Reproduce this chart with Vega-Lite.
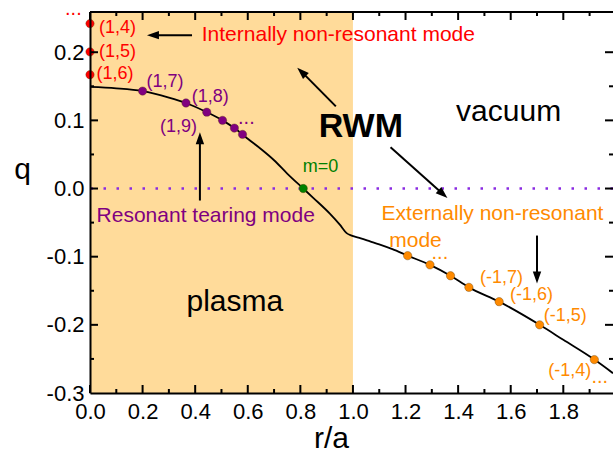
{
  "$schema": "https://vega.github.io/schema/vega-lite/v6.json",
  "width": 523,
  "height": 381,
  "autosize": {"type": "none"},
  "padding": {"left": 90, "top": 12, "right": 0, "bottom": 57},
  "background": "white",
  "config": {
    "view": {"stroke": null},
    "axis": {"grid": false, "domainColor": "black", "domainWidth": 2, "labelFont": "Liberation Sans", "titleFont": "Liberation Sans", "labelFontSize": 22, "labelColor": "black", "titleColor": "black"},
    "text": {"font": "Liberation Sans"}
  },
  "datasets": {
    "region": [{"r0": 0, "r1": 1, "q0": -0.3, "q1": 0.259}],
    "frame": [{"r": 0, "q": 0.259}, {"r": 1.989, "q": 0.259}],
    "zero": [{"q": 0}],
    "xmaj": [{"r": 0}, {"r": 0.2}, {"r": 0.4}, {"r": 0.6}, {"r": 0.8}, {"r": 1.0}, {"r": 1.2}, {"r": 1.4}, {"r": 1.6}, {"r": 1.8}],
    "xmin": [{"r": 0.1}, {"r": 0.3}, {"r": 0.5}, {"r": 0.7}, {"r": 0.9}, {"r": 1.1}, {"r": 1.3}, {"r": 1.5}, {"r": 1.7}, {"r": 1.9}],
    "ymaj": [{"q": -0.2}, {"q": -0.1}, {"q": 0}, {"q": 0.1}, {"q": 0.2}],
    "ymin": [{"q": -0.25}, {"q": -0.15}, {"q": -0.05}, {"q": 0.05}, {"q": 0.15}],
    "curve": [
      {"r": 0, "q": 0.149}, {"r": 0.1, "q": 0.147}, {"r": 0.2, "q": 0.143}, {"r": 0.3, "q": 0.1335},
      {"r": 0.365, "q": 0.1255}, {"r": 0.444, "q": 0.112}, {"r": 0.504, "q": 0.1}, {"r": 0.549, "q": 0.0887},
      {"r": 0.58, "q": 0.0794}, {"r": 0.6, "q": 0.073}, {"r": 0.65, "q": 0.058}, {"r": 0.7, "q": 0.0415},
      {"r": 0.75, "q": 0.022}, {"r": 0.811, "q": 0}, {"r": 0.85, "q": -0.014}, {"r": 0.913, "q": -0.0372},
      {"r": 0.95, "q": -0.053}, {"r": 0.976, "q": -0.0655}, {"r": 0.995, "q": -0.069}, {"r": 1.03, "q": -0.073},
      {"r": 1.065, "q": -0.0775}, {"r": 1.1, "q": -0.082}, {"r": 1.15, "q": -0.089}, {"r": 1.208, "q": -0.0985},
      {"r": 1.293, "q": -0.112}, {"r": 1.371, "q": -0.128}, {"r": 1.441, "q": -0.145}, {"r": 1.556, "q": -0.166},
      {"r": 1.71, "q": -0.2}, {"r": 1.8, "q": -0.222}, {"r": 1.918, "q": -0.251}, {"r": 1.989, "q": -0.271}
    ],
    "pts": [
      {"r": 0, "q": 0.242, "group": "internal"}, {"r": 0, "q": 0.2005, "group": "internal"}, {"r": 0, "q": 0.167, "group": "internal"},
      {"r": 0.2, "q": 0.143, "group": "tearing"}, {"r": 0.365, "q": 0.1255, "group": "tearing"}, {"r": 0.444, "q": 0.112, "group": "tearing"},
      {"r": 0.504, "q": 0.1, "group": "tearing"}, {"r": 0.549, "q": 0.0887, "group": "tearing"}, {"r": 0.58, "q": 0.0794, "group": "tearing"},
      {"r": 0.811, "q": 0, "group": "m0"},
      {"r": 1.208, "q": -0.0985, "group": "external"}, {"r": 1.293, "q": -0.112, "group": "external"}, {"r": 1.371, "q": -0.128, "group": "external"},
      {"r": 1.441, "q": -0.145, "group": "external"}, {"r": 1.556, "q": -0.166, "group": "external"}, {"r": 1.71, "q": -0.2, "group": "external"},
      {"r": 1.918, "q": -0.251, "group": "external"}
    ],
    "small": [
      {"r": 0.034, "q": 0.235, "label": "(1,4)", "group": "internal"},
      {"r": 0.034, "q": 0.2, "label": "(1,5)", "group": "internal"},
      {"r": 0.025, "q": 0.168, "label": "(1,6)", "group": "internal"},
      {"r": 0.215, "q": 0.156, "label": "(1,7)", "group": "tearing"},
      {"r": 0.387, "q": 0.135, "label": "(1,8)", "group": "tearing"},
      {"r": 0.266, "q": 0.091, "label": "(1,9)", "group": "tearing"},
      {"r": 0.809, "q": 0.031, "label": "m=0", "group": "m0"},
      {"r": 1.483, "q": -0.131, "label": "(-1,7)", "group": "external"},
      {"r": 1.597, "q": -0.156, "label": "(-1,6)", "group": "external"},
      {"r": 1.726, "q": -0.187, "label": "(-1,5)", "group": "external"},
      {"r": 1.743, "q": -0.268, "label": "(-1,4)", "group": "external"}
    ],
    "notes": [
      {"r": 0.425, "q": 0.225, "label": "Internally non-resonant mode", "group": "internal"},
      {"r": 0.025, "q": -0.04, "label": "Resonant tearing mode", "group": "tearing"},
      {"r": 1.109, "q": -0.037, "label": "Externally non-resonant", "group": "external"},
      {"r": 1.138, "q": -0.0765, "label": "mode", "group": "external"}
    ],
    "dots": [
      {"r": -0.095, "q": 0.255, "group": "internal"},
      {"r": 0.563, "q": 0.095, "group": "tearing"},
      {"r": 1.299, "q": -0.104, "group": "external"},
      {"r": 1.907, "q": -0.285, "group": "external"}
    ],
    "words": [
      {"r": 1.592, "q": 0.0988, "label": "vacuum"},
      {"r": 0.551, "q": -0.179, "label": "plasma"}
    ],
    "big": [{"r": 1.03, "q": 0.0749, "label": "RWM"}],
    "shafts": [
      {"r": 0.388, "q": 0.225, "r2": 0.244, "q2": 0.225},
      {"r": 0.418, "q": -0.0176, "r2": 0.418, "q2": 0.072},
      {"r": 0.935, "q": 0.1206, "r2": 0.808, "q2": 0.17},
      {"r": 1.143, "q": 0.0607, "r2": 1.339, "q2": -0.0069},
      {"r": 1.7, "q": -0.069, "r2": 1.7, "q2": -0.1288}
    ],
    "heads": [
      {"r": 0.244, "q": 0.225, "dir": "left"},
      {"r": 0.418, "q": 0.072, "dir": "up"},
      {"r": 0.808, "q": 0.17, "dir": "upleft"},
      {"r": 1.339, "q": -0.0069, "dir": "downright"},
      {"r": 1.7, "q": -0.1288, "dir": "down"}
    ]
  },
  "layer": [
    {
      "data": {"name": "region"},
      "mark": {"type": "rect", "color": "#FFDB9A"},
      "encoding": {
        "x": {"field": "r0", "type": "quantitative", "scale": {"domain": [0, 1.989], "nice": false, "zero": false},
          "axis": {"orient": "bottom", "zindex": 1, "title": "r/a", "values": [0, 0.2, 0.4, 0.6, 0.8, 1.0, 1.2, 1.4, 1.6, 1.8],
            "format": ".1f", "ticks": false, "grid": false,
            "labelPadding": 8, "labelOverlap": false, "labelFlush": false,
            "titleFontSize": 30, "titleFontWeight": "normal", "titleX": 241, "titleY": 54, "titleAlign": "center", "titleBaseline": "alphabetic"}},
        "x2": {"field": "r1"},
        "y": {"field": "q0", "type": "quantitative", "scale": {"domain": [-0.3, 0.259], "nice": false, "zero": false},
          "axis": {"orient": "left", "zindex": 1, "title": "q", "values": [-0.3, -0.2, -0.1, 0, 0.1, 0.2],
            "labelExpr": "replace(format(datum.value,'.1f'),'−','-')", "ticks": false, "grid": false,
            "labelPadding": 6, "labelOverlap": false, "labelFlush": false,
            "titleFontSize": 30, "titleFontWeight": "normal", "titleAngle": 0, "titleX": -68, "titleY": 166, "titleAlign": "center", "titleBaseline": "alphabetic"}},
        "y2": {"field": "q1"}
      }
    },
    {
      "data": {"name": "zero"},
      "mark": {"type": "rule", "color": "#8A2BE2", "strokeWidth": 2.5, "strokeDash": [2.5, 10.5]},
      "encoding": {"y": {"field": "q", "type": "quantitative"}}
    },
    {
      "data": {"name": "curve"},
      "mark": {"type": "line", "color": "black", "strokeWidth": 1.8, "interpolate": "monotone"},
      "encoding": {
        "x": {"field": "r", "type": "quantitative"},
        "y": {"field": "q", "type": "quantitative"}
      }
    },
    {
      "data": {"name": "shafts"},
      "mark": {"type": "rule", "color": "black", "strokeWidth": 2},
      "encoding": {
        "x": {"field": "r", "type": "quantitative"},
        "y": {"field": "q", "type": "quantitative"},
        "x2": {"field": "r2"},
        "y2": {"field": "q2"}
      }
    },
    {
      "data": {"name": "heads"},
      "transform": [{"filter": "datum.dir == 'left'"}],
      "mark": {"type": "point", "shape": "M0,-1.2L0.7,0.8L-0.7,0.8Z", "filled": true, "color": "black", "opacity": 1, "size": 144, "angle": 270},
      "encoding": {"x": {"field": "r", "type": "quantitative"}, "y": {"field": "q", "type": "quantitative"}}
    },
    {
      "data": {"name": "heads"},
      "transform": [{"filter": "datum.dir == 'up'"}],
      "mark": {"type": "point", "shape": "M0,-1.2L0.7,0.8L-0.7,0.8Z", "filled": true, "color": "black", "opacity": 1, "size": 144, "angle": 0},
      "encoding": {"x": {"field": "r", "type": "quantitative"}, "y": {"field": "q", "type": "quantitative"}}
    },
    {
      "data": {"name": "heads"},
      "transform": [{"filter": "datum.dir == 'upleft'"}],
      "mark": {"type": "point", "shape": "M0,-1.2L0.7,0.8L-0.7,0.8Z", "filled": true, "color": "black", "opacity": 1, "size": 144, "angle": 313.5},
      "encoding": {"x": {"field": "r", "type": "quantitative"}, "y": {"field": "q", "type": "quantitative"}}
    },
    {
      "data": {"name": "heads"},
      "transform": [{"filter": "datum.dir == 'downright'"}],
      "mark": {"type": "point", "shape": "M0,-1.2L0.7,0.8L-0.7,0.8Z", "filled": true, "color": "black", "opacity": 1, "size": 144, "angle": 131.8},
      "encoding": {"x": {"field": "r", "type": "quantitative"}, "y": {"field": "q", "type": "quantitative"}}
    },
    {
      "data": {"name": "heads"},
      "transform": [{"filter": "datum.dir == 'down'"}],
      "mark": {"type": "point", "shape": "M0,-1.2L0.7,0.8L-0.7,0.8Z", "filled": true, "color": "black", "opacity": 1, "size": 144, "angle": 180},
      "encoding": {"x": {"field": "r", "type": "quantitative"}, "y": {"field": "q", "type": "quantitative"}}
    },
    {
      "data": {"name": "pts"},
      "mark": {"type": "point", "shape": "circle", "filled": true, "opacity": 1, "size": 70, "stroke": "#553300", "strokeWidth": 0.6, "strokeOpacity": 0.6},
      "encoding": {
        "x": {"field": "r", "type": "quantitative"},
        "y": {"field": "q", "type": "quantitative"},
        "fill": {"field": "group", "type": "nominal", "legend": null, "scale": {"domain": ["internal", "tearing", "m0", "external"], "range": ["#FF0000", "#800080", "#008000", "#FF8A00"]}}
      }
    },
    {
      "data": {"name": "small"},
      "mark": {"type": "text", "align": "left", "baseline": "middle", "fontSize": 18},
      "encoding": {
        "x": {"field": "r", "type": "quantitative"},
        "y": {"field": "q", "type": "quantitative"},
        "text": {"field": "label"},
        "color": {"field": "group", "type": "nominal", "legend": null, "scale": {"domain": ["internal", "tearing", "m0", "external"], "range": ["#FF0000", "#800080", "#008000", "#FF8A00"]}}
      }
    },
    {
      "data": {"name": "notes"},
      "mark": {"type": "text", "align": "left", "baseline": "middle", "fontSize": 21},
      "encoding": {
        "x": {"field": "r", "type": "quantitative"},
        "y": {"field": "q", "type": "quantitative"},
        "text": {"field": "label"},
        "color": {"field": "group", "type": "nominal", "legend": null, "scale": {"domain": ["internal", "tearing", "m0", "external"], "range": ["#FF0000", "#800080", "#008000", "#FF8A00"]}}
      }
    },
    {
      "data": {"name": "dots"},
      "mark": {"type": "text", "align": "left", "baseline": "alphabetic", "fontSize": 20, "text": "..."},
      "encoding": {
        "x": {"field": "r", "type": "quantitative"},
        "y": {"field": "q", "type": "quantitative"},
        "color": {"field": "group", "type": "nominal", "legend": null, "scale": {"domain": ["internal", "tearing", "m0", "external"], "range": ["#FF0000", "#800080", "#008000", "#FF8A00"]}}
      }
    },
    {
      "data": {"name": "words"},
      "mark": {"type": "text", "align": "center", "baseline": "alphabetic", "fontSize": 30, "color": "black"},
      "encoding": {
        "x": {"field": "r", "type": "quantitative"},
        "y": {"field": "q", "type": "quantitative"},
        "text": {"field": "label"}
      }
    },
    {
      "data": {"name": "big"},
      "mark": {"type": "text", "align": "center", "baseline": "alphabetic", "fontSize": 34, "fontWeight": "bold", "color": "black"},
      "encoding": {
        "x": {"field": "r", "type": "quantitative"},
        "y": {"field": "q", "type": "quantitative"},
        "text": {"field": "label"}
      }
    },
    {
      "data": {"name": "frame"},
      "mark": {"type": "line", "color": "black", "strokeWidth": 2},
      "encoding": {"x": {"field": "r", "type": "quantitative"}, "y": {"field": "q", "type": "quantitative"}}
    },
    {
      "data": {"name": "xmaj"},
      "mark": {"type": "point", "shape": "M0,0L0,-2", "filled": false, "stroke": "black", "strokeWidth": 2, "opacity": 1, "size": 64},
      "encoding": {"x": {"field": "r", "type": "quantitative"}, "y": {"datum": -0.3, "type": "quantitative"}}
    },
    {
      "data": {"name": "xmin"},
      "mark": {"type": "point", "shape": "M0,0L0,-2", "filled": false, "stroke": "black", "strokeWidth": 2, "opacity": 1, "size": 16},
      "encoding": {"x": {"field": "r", "type": "quantitative"}, "y": {"datum": -0.3, "type": "quantitative"}}
    },
    {
      "data": {"name": "xmaj"},
      "mark": {"type": "point", "shape": "M0,0L0,2", "filled": false, "stroke": "black", "strokeWidth": 2, "opacity": 1, "size": 64},
      "encoding": {"x": {"field": "r", "type": "quantitative"}, "y": {"datum": 0.259, "type": "quantitative"}}
    },
    {
      "data": {"name": "xmin"},
      "mark": {"type": "point", "shape": "M0,0L0,2", "filled": false, "stroke": "black", "strokeWidth": 2, "opacity": 1, "size": 16},
      "encoding": {"x": {"field": "r", "type": "quantitative"}, "y": {"datum": 0.259, "type": "quantitative"}}
    },
    {
      "data": {"name": "ymaj"},
      "mark": {"type": "point", "shape": "M0,0L2,0", "filled": false, "stroke": "black", "strokeWidth": 2, "opacity": 1, "size": 64},
      "encoding": {"y": {"field": "q", "type": "quantitative"}, "x": {"datum": 0, "type": "quantitative"}}
    },
    {
      "data": {"name": "ymin"},
      "mark": {"type": "point", "shape": "M0,0L2,0", "filled": false, "stroke": "black", "strokeWidth": 2, "opacity": 1, "size": 16},
      "encoding": {"y": {"field": "q", "type": "quantitative"}, "x": {"datum": 0, "type": "quantitative"}}
    },
    {
      "data": {"name": "ymaj"},
      "mark": {"type": "point", "shape": "M0,0L-2,0", "filled": false, "stroke": "black", "strokeWidth": 2, "opacity": 1, "size": 64},
      "encoding": {"y": {"field": "q", "type": "quantitative"}, "x": {"datum": 1.989, "type": "quantitative"}}
    },
    {
      "data": {"name": "ymin"},
      "mark": {"type": "point", "shape": "M0,0L-2,0", "filled": false, "stroke": "black", "strokeWidth": 2, "opacity": 1, "size": 16},
      "encoding": {"y": {"field": "q", "type": "quantitative"}, "x": {"datum": 1.989, "type": "quantitative"}}
    }
  ]
}
